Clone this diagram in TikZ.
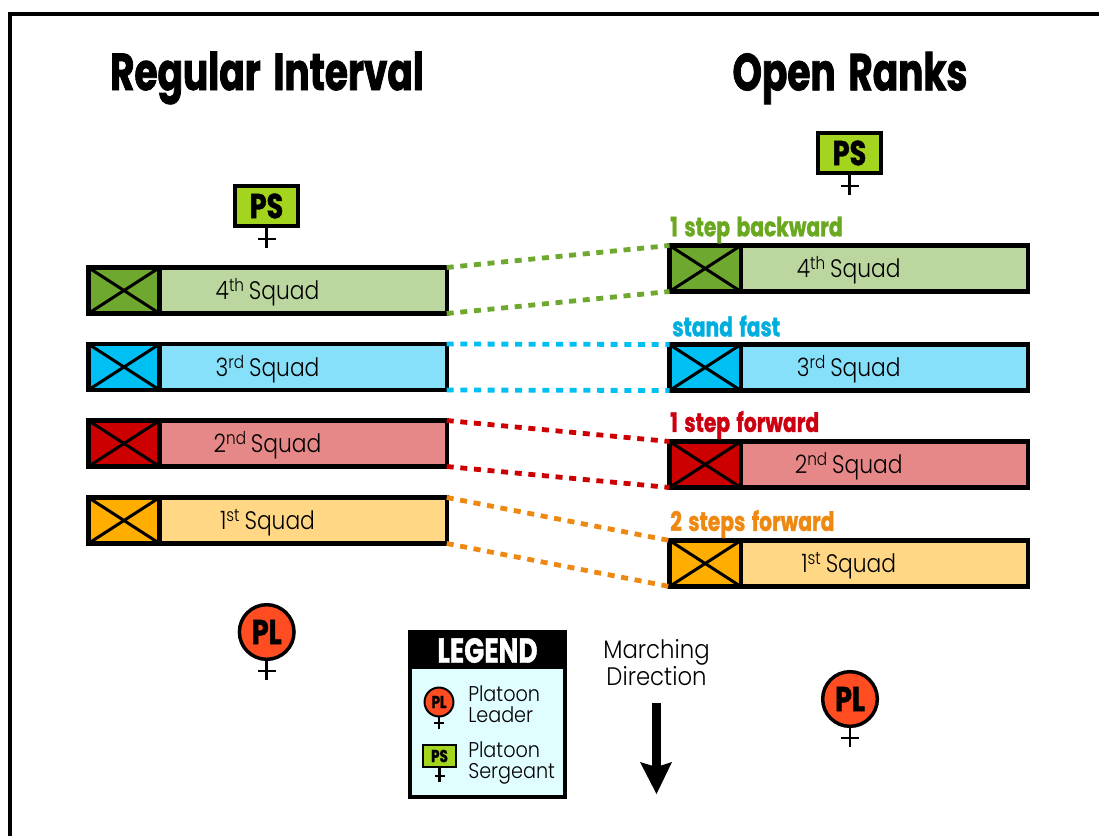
\documentclass[tikz,border=0pt]{standalone}
\usepackage{fontspec}
\setmainfont[FakeStretch=0.9]{Poppins Light}
\newfontfamily\titlef[FakeStretch=0.72,FakeBold=1.5,WordSpace=1.6]{Poppins Bold}
\newfontfamily\condf[FakeStretch=0.76,FakeBold=1.2,WordSpace=1.5]{Poppins Bold}
\newfontfamily\symf[FakeStretch=0.78,FakeBold=1.2]{Poppins Bold}
\newfontfamily\squadf[FakeStretch=0.86]{Poppins Light}
\usetikzlibrary{calc}
\definecolor{gD}{HTML}{6FA82E}\definecolor{gL}{HTML}{BBD79F}\definecolor{gT}{HTML}{6AA820}
\definecolor{bD}{HTML}{00BFF3}\definecolor{bL}{HTML}{87E0FA}\definecolor{bT}{HTML}{00AEDE}
\definecolor{rD}{HTML}{CC0000}\definecolor{rL}{HTML}{E68888}\definecolor{rT}{HTML}{CC0011}
\definecolor{oD}{HTML}{FFAE00}\definecolor{oL}{HTML}{FFD785}\definecolor{oT}{HTML}{EE8811}
\definecolor{psF}{HTML}{A4D51E}\definecolor{plF}{HTML}{FF4D21}\definecolor{legF}{HTML}{E0FDFF}
\newcommand{\pxfont}[1]{\fontsize{#1}{#1}\selectfont}
\tikzset{x=0.75pt,y=-0.75pt,
 frameline/.style={line width=3pt},
 squadbox/.style={draw=black,line width=3.3pt,minimum width=268.8pt,minimum height=34.5pt,inner sep=0pt,outer sep=0pt},
 flagbox/.style={draw=black,line width=3.3pt,minimum width=53.5pt,minimum height=34.5pt,inner sep=0pt,outer sep=0pt,path picture={\draw[line width=2.25pt] (path picture bounding box.north west)--(path picture bounding box.south east) (path picture bounding box.north east)--(path picture bounding box.south west);}},
 link/.style={line width=3.6pt,dash pattern=on 5.25pt off 5pt},
 title/.style={font=\titlef\pxfont{39},inner sep=0pt},
 steplabel/.style={font=\condf\pxfont{20},anchor=west,inner sep=0pt},
 psbox/.style={draw=black,line width=3pt,fill=psF,minimum width=47.5pt,minimum height=30.5pt,inner sep=0pt,outer sep=0pt,font=\symf\pxfont{26}},
 plcirc/.style={circle,draw=black,line width=2.6pt,fill=plF,minimum size=41pt,inner sep=0pt,outer sep=0pt,font=\symf\pxfont{26}},
 sym/.style={line width=1.9pt},
 body/.style={font=\pxfont{16},inner sep=0pt,text height=8.5pt,text depth=3pt},
 dirtext/.style={font=\pxfont{19},inner sep=0pt,text height=10pt,text depth=3.5pt},
}
\newcommand{\squad}[6]{% name, cx, cy, dark, light, text
 \node[squadbox,fill=#5] (#1) at (#2,#3) {};
 \node[flagbox,fill=#4,anchor=west] (#1f) at (#1.west) {};
 \node[font=\squadf\pxfont{19},inner sep=0pt] (#1t) at ($(#1)+(0,2)$) {#6};
}
\newcommand{\sq}[2]{#1\textsuperscript{#2}\,Squad}
\begin{document}
\begin{tikzpicture}
\useasboundingbox (0,0) rectangle (1099,836);
\fill[white] (0,0) rectangle (1099,836);
\coordinate (fa) at (10.3,836); \coordinate (fb) at (10.3,14.2); \coordinate (fc) at (1099,14.2);
\draw[frameline,line cap=butt,line join=miter] (fa)--(fb)--(fc);

\node[title] (t1) at (267,78) {Regular Interval};
\node[title] (t2) at (850,78) {Open Ranks};

\squad{l4}{267.5}{290.5}{gD}{gL}{\sq{4}{th}}
\squad{l3}{267.5}{367}{bD}{bL}{\sq{3}{rd}}
\squad{l2}{267.5}{443.5}{rD}{rL}{\sq{2}{nd}}
\squad{l1}{267.5}{520.5}{oD}{oL}{\sq{1}{st}}
\squad{r4}{848.7}{268.5}{gD}{gL}{\sq{4}{th}}
\squad{r3}{848.7}{367.5}{bD}{bL}{\sq{3}{rd}}
\squad{r2}{848.7}{464.5}{rD}{rL}{\sq{2}{nd}}
\squad{r1}{848.7}{563.5}{oD}{oL}{\sq{1}{st}}

\draw[link,gD] (l4.north east)--(r4f.north west);
\draw[link,gD] (l4.south east)--(r4f.south west);
\draw[link,bD] (l3.north east)--(r3f.north west);
\draw[link,bD] (l3.south east)--(r3f.south west);
\draw[link,rD] (l2.north east)--(r2f.north west);
\draw[link,rD] (l2.south east)--(r2f.south west);
\draw[link,oT] (l1.north east)--(r1f.north west);
\draw[link,oT] (l1.south east)--(r1f.south west);

\node[steplabel,text=gT] (s4) at (670,230) {1 step backward};
\node[steplabel,text=bT] (s3) at (672,326) {stand fast};
\node[steplabel,text=rT] (s2) at (670,425) {1 step forward};
\node[steplabel,text=oT] (s1) at (670,524) {2 steps forward};

% platoon sergeants
\node[psbox] (ps1) at (266.5,206) {PS};
\coordinate (ps1e) at (266.5,248); \coordinate (ps1a) at (258,239); \coordinate (ps1b) at (276,239);
\draw[sym] (ps1.south)--(ps1e) (ps1a)--(ps1b);
\node[psbox] (ps2) at (849.5,153) {PS};
\coordinate (ps2e) at (849.5,195); \coordinate (ps2a) at (841,186); \coordinate (ps2b) at (859,186);
\draw[sym] (ps2.south)--(ps2e) (ps2a)--(ps2b);

% platoon leaders
\node[plcirc] (pl1) at (266.7,632) {PL};
\coordinate (pl1e) at (266.7,680); \coordinate (pl1a) at (258,671); \coordinate (pl1b) at (276,671);
\draw[sym] (pl1.south)--(pl1e) (pl1a)--(pl1b);
\node[plcirc] (pl2) at (850,699) {PL};
\coordinate (pl2e) at (850,747); \coordinate (pl2a) at (841,738); \coordinate (pl2b) at (859,738);
\draw[sym] (pl2.south)--(pl2e) (pl2a)--(pl2b);

% legend
\node[draw=black,line width=3pt,fill=legF,minimum width=116pt,minimum height=124pt,inner sep=0pt,outer sep=0pt] (leg) at (487.5,714.5) {};
\node[fill=black,minimum width=116pt,minimum height=28pt,inner sep=0pt,outer sep=0pt,anchor=north,text=white,font=\condf\pxfont{26}] (legh) at (leg.north) {LEGEND};
\node[circle,draw=black,line width=1.5pt,fill=plF,minimum size=21.7pt,inner sep=0pt,outer sep=0pt,font=\symf\pxfont{13}] (lpl) at (439,702) {PL};
\coordinate (lple) at (439,729); \coordinate (lpla) at (434,723); \coordinate (lplb) at (444,723);
\draw[sym] (lpl.south)--(lple) (lpla)--(lplb);
\node[draw=black,line width=1.5pt,fill=psF,minimum width=25pt,minimum height=16pt,inner sep=0pt,outer sep=0pt,font=\symf\pxfont{13}] (lps) at (439.5,756) {PS};
\coordinate (lpse) at (439.5,782); \coordinate (lpsa) at (434.5,776); \coordinate (lpsb) at (444.5,776);
\draw[sym] (lps.south)--(lpse) (lpsa)--(lpsb);
\node[body,anchor=west] (tx1) at (468,697.5) {Platoon};
\node[body,anchor=west] (tx2) at (468,718.5) {Leader};
\node[body,anchor=west] (tx3) at (468,753.5) {Platoon};
\node[body,anchor=west] (tx4) at (468,774.5) {Sergeant};

\node[dirtext] (m1) at (656.5,654.5) {Marching};
\node[dirtext] (m2) at (656.5,681) {Direction};
\coordinate (ar1) at (656.5,703); \coordinate (ar2) at (656.5,770);
\draw[line width=7pt] (ar1)--(ar2);
\fill (640,762) -- (656.5,794) -- (672,762) -- (656.5,767) -- cycle;
\end{tikzpicture}
\end{document}
